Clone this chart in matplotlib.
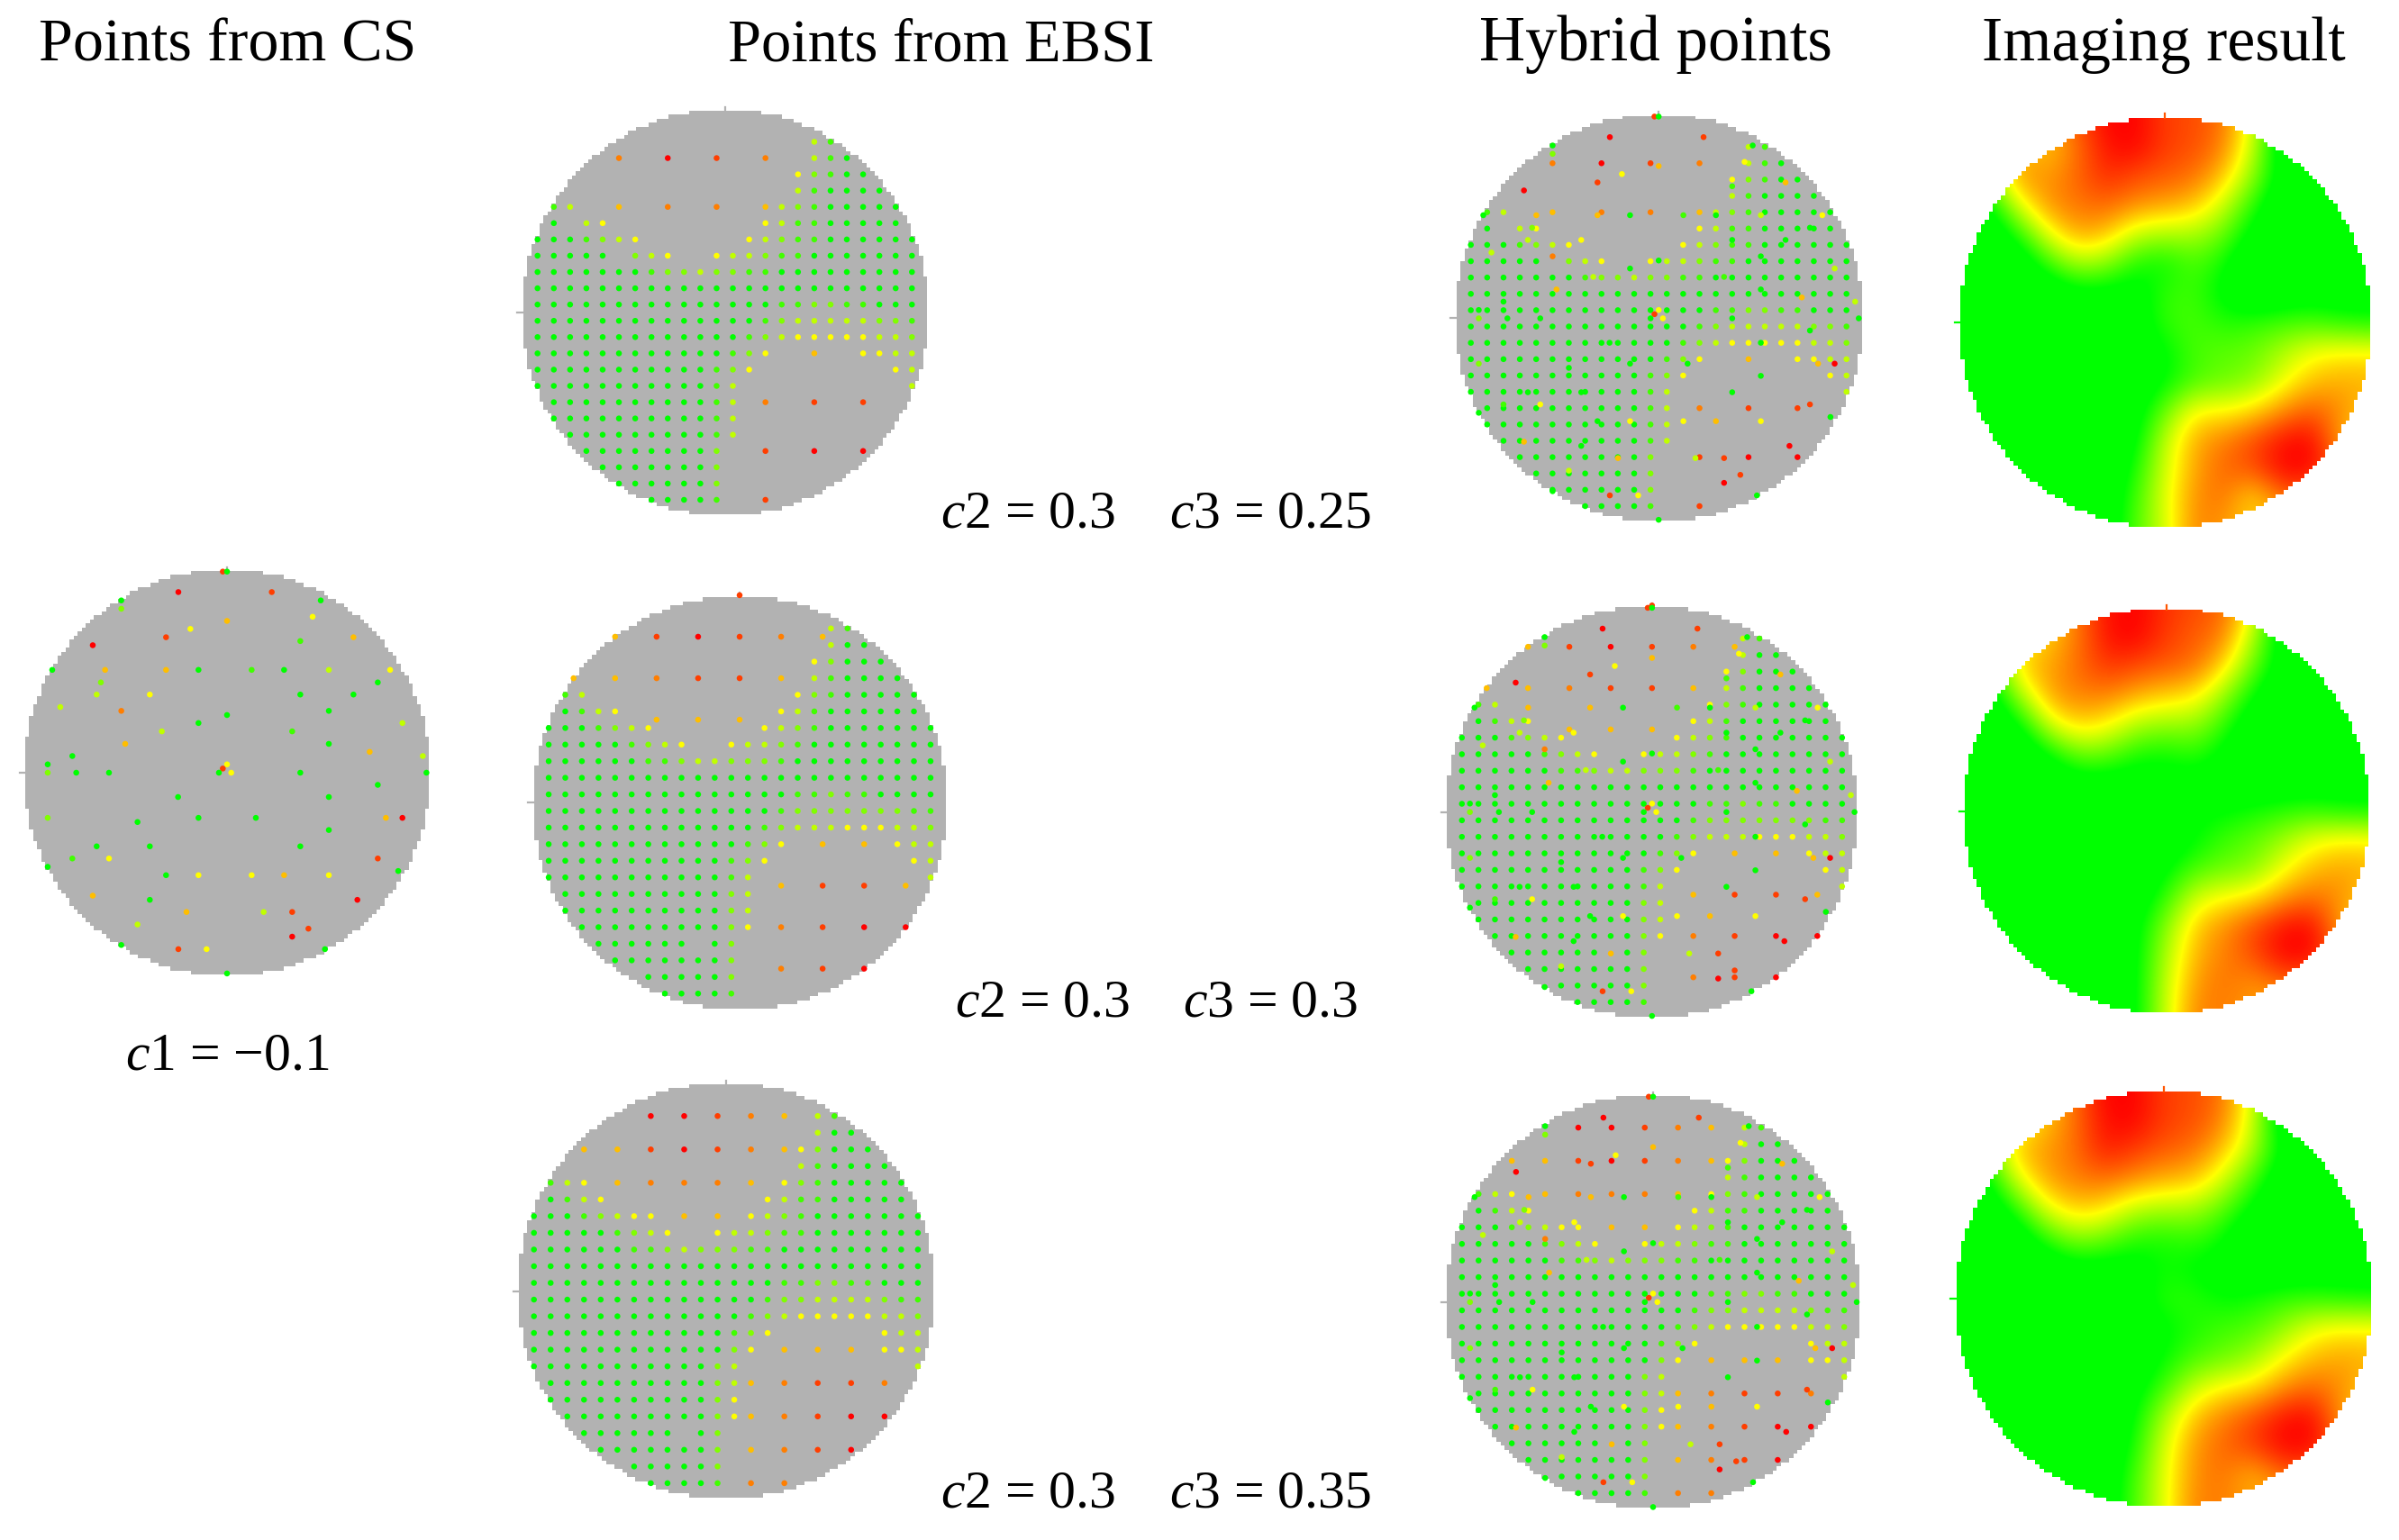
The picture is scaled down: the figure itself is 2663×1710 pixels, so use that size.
import matplotlib
matplotlib.use("Agg")
import matplotlib.pyplot as plt
from matplotlib.colors import LinearSegmentedColormap
import numpy as np

W, H = 2663, 1710

# sampling levels per grid row, 0 = green ... 4 = yellow ... 8 = red, "." = not sampled
EBSI_A = [
    ".................31.....",
    ".....6..8..7..6..310....",
    "................42100...",
    "................310000..",
    ".13..5..6..6..532100000.",
    ".0.34.........431100000.",
    "0001234......43211000000",
    "00000.234..4332110000000",
    "000000012232211000000000",
    "000000000000000000000000",
    "000000000000000112211000",
    "000000000000001233333221",
    "000000000000012344444332",
    "000000000000124..5..4433",
    "00000000000124........43",
    "0000000000013..........3",
    ".000000000013.6..7..7...",
    ".000000000013...........",
    "..00000000013...........",
    "...000000002..7..8..8...",
    "....00000002............",
    ".....0000002............",
    ".......00001..7.........",
]
EBSI_B = [
    ".................31.....",
    ".................300....",
    "................42000...",
    "....5....7....5.310000..",
    ".13............42100000.",
    ".0134.........431000000.",
    "0001234......43210000000",
    "000001234..4332100000000",
    "000000112332221000000000",
    "000000000000000000000000",
    "000000000000000112110000",
    "000000000000001222222211",
    "000000000000012333444332",
    "000000000000124....5.433",
    "00000000000124........43",
    "0000000000013..........3",
    ".000000000023...........",
    ".000000000023...........",
    "..00000000024.6....8....",
    "...000000.02............",
    "....00000002............",
    "......000002............",
    ".......00001............",
]
# EBSI_B also has points between the grid lines
B_EXTRA_COL = [4, 6.5, 9, 11.5, 14, 16.5, 1.5, 6.5, 11.5, 6.5, 9, 11.5, 16.5,
               14, 16.5, 19, 21.5, 16.5, 21.5, 14, 16.5, 19, 11.5]
B_EXTRA_ROW = [0.5, 0.5, 0.5, 0.5, 0.5, 0.5, 3, 3, 3, 5.5, 5.5, 5.5, 13,
               15.5, 15.5, 15.5, 15.5, 18, 18, 20.5, 20.5, 20.5, -2]
B_EXTRA_LEVEL = [5, 7, 8, 7, 6, 5, 5, 6, 7, 5, 5, 5, 5,
                 5, 7, 7, 5, 7, 8, 6, 7, 8, 7]
EBSI_C = [
    ".......8.8.7.6.5.31.....",
    ".................300....",
    "...5.5.7.8.7.6.542000...",
    "................310000..",
    ".134.5.6.6.6.5.42100000.",
    ".0134.........431100000.",
    "00012344.5.5.43210000000",
    "000001234..4332110000000",
    "000000112322211000000000",
    "000000000000000000000000",
    "000000000000000112211000",
    "000000000000001223333211",
    "000000000000012344444332",
    "000000000000124......433",
    "00000000000024.5.5.5.443",
    "0000000000023..........3",
    ".0000000000235.6.7.7.6..",
    ".000000000024...........",
    "..000000000245.6.7.8.8..",
    "...000000.02............",
    "....00000002.5.6.7.8....",
    "......000002............",
    ".......00001.6.6........",
]

# compressed sensing points
CS_READ_X = [741, 755, 593, 904, 403, 403, 1067, 1040, 755, 633, 552, 308, 999, 1176,
             173, 349, 552, 660, 837, 945, 1094, 1298, 335, 1257, 321, 498, 999, 1176,
             200, 403, 755, 1094, 660, 1339, 538, 972, 416, 1094, 1230, 1407,
             240, 158, 158, 253, 362, 755, 741, 728, 769, 999, 1419, 1257, 592, 1094,
             158, 660, 851, 1284, 1339, 457, 1094, 321, 498, 999,
             240, 362, 1257, 158, 1325, 552, 660, 837, 945, 1094,
             308, 498, 1189, 620, 877, 972, 457, 1026, 972,
             403, 593, 687, 1081, 755]
CS_READ_Y = [65, 65, 124, 124, 148, 172, 148, 195, 207, 230, 254, 277, 265, 254,
             348, 348, 348, 348, 348, 348, 348, 348, 384, 384, 419, 419, 419, 419,
             455, 466, 478, 466, 501, 501, 525, 525, 561, 561, 584, 596,
             596, 620, 644, 644, 644, 620, 632, 644, 644, 644, 644, 679, 714, 714,
             774, 774, 774, 774, 774, 786, 809, 856, 856, 856,
             891, 891, 891, 915, 927, 939, 939, 939, 939, 939,
             998, 1010, 1010, 1045, 1045, 1045, 1081, 1093, 1116,
             1140, 1152, 1152, 1152, 1222]
CS_LEVEL = [7, 0, 8, 7, 0, 2, 0, 4, 5, 4, 7, 8, 1, 5,
            0, 5, 5, 0, 1, 0, 3, 4, 2, 0, 3, 4, 0, 0,
            3, 6, 0, 0, 0, 3, 3, 1, 5, 0, 5, 3,
            0, 0, 2, 0, 0, 4, 7, 0, 4, 0, 0, 0, 0, 0,
            2, 0, 0, 5, 8, 0, 0, 0, 0, 0,
            1, 4, 7, 0, 0, 0, 4, 4, 5, 4,
            5, 0, 8, 5, 3, 7, 3, 7, 8,
            0, 7, 4, 0, 0]

# imaging result, 0 = green, 0.5 = yellow, 1 = red, on a coarse 15 x 15 mesh over the disk
# N marks mesh cells well inside the flat green part
N = -0.2
IMAGE_A = [
    [N, .1, .6, .65, .85, 1, 1, .88, .85, .78, .45, -.15, N, N, N],
    [N, .1, .65, .6, .78, .97, 1, .88, .85, .75, .4, -.17, N, N, N],
    [N, .3, .72, .7, .8, .92, .85, .82, .78, .62, .28, -.1, N, N, N],
    [N, -.05, .45, .72, .77, .8, .72, .68, .62, .4, .08, -.2, N, N, N],
    [N, -.2, .06, .46, .68, .62, .38, .33, .33, .2, -.08, N, N, N, N],
    [N, N, -.2, .1, .33, .27, .05, 0, .15, .02, N, N, N, N, N],
    [N, N, N, N, -.08, -.08, -.1, .1, .12, -.05, -.2, -.15, -.1, -.12, -.12],
    [N, N, N, N, N, N, -.1, .1, .14, .06, .09, .13, .14, .08, .05],
    [N, N, N, N, N, N, -.15, -.02, .14, .18, .2, .34, .48, .52, .52],
    [N, N, N, N, N, N, -.15, -.02, .14, .2, .26, .46, .62, .66, .65],
    [N, N, N, N, N, N, -.1, .2, .52, .5, .57, .72, .82, .72, .6],
    [N, N, N, N, N, -.2, -.05, .38, .66, .75, .85, .97, 1, .68, .5],
    [N, N, N, N, N, -.2, .05, .42, .68, .8, .85, 1, 1, .8, .5],
    [N, N, N, N, N, -.15, .12, .45, .72, .78, .55, .8, .8, .6, .4],
    [N, N, N, N, N, -.15, .16, .42, .75, .7, .6, .6, .6, .5, .4],
]
IMAGE_B = [
    [N, .05, .3, .55, .8, .98, 1, .9, .85, .8, .5, -.15, N, N, N],
    [N, .05, .5, .62, .78, .98, 1, .88, .82, .75, .35, -.12, N, N, N],
    [N, .15, .62, .68, .8, .9, .85, .82, .78, .57, .2, -.1, N, N, N],
    [N, -.1, .38, .7, .75, .75, .66, .6, .55, .3, 0, N, N, N, N],
    [N, N, 0, .46, .6, .52, .34, .3, .3, .1, -.15, N, N, N, N],
    [N, N, N, .02, .24, .2, .06, .03, .1, -.05, N, N, N, N, N],
    [N, N, N, N, -.1, -.1, -.12, -.08, -.08, -.12, -.15, -.15, -.12, -.12, -.12],
    [N, N, N, N, N, N, -.05, .03, -.03, -.02, .03, .08, .1, .05, .03],
    [N, N, N, N, N, N, N, -.12, -.02, .12, .18, .3, .46, .52, .52],
    [N, N, N, N, N, N, N, -.03, .14, .2, .25, .47, .62, .68, .65],
    [N, N, N, N, N, N, -.12, .1, .42, .5, .55, .7, .78, .72, .6],
    [N, N, N, N, N, N, -.05, .27, .6, .72, .85, .97, 1, .7, .5],
    [N, N, N, N, N, N, -.03, .35, .65, .75, .85, 1, 1, .8, .5],
    [N, N, N, N, N, N, -.02, .4, .7, .78, .7, .8, .8, .6, .4],
    [N, N, N, N, N, N, -.02, .42, .75, .75, .7, .6, .6, .5, .4],
]
IMAGE_C = [
    [N, .05, .3, .55, .8, 1, 1, .88, .85, .78, .45, -.15, N, N, N],
    [N, .1, .45, .62, .78, .98, 1, .88, .85, .75, .42, -.15, N, N, N],
    [N, .15, .62, .7, .78, .95, .88, .82, .78, .62, .35, -.05, N, N, N],
    [N, -.08, .42, .68, .75, .78, .72, .65, .62, .42, .12, -.15, N, N, N],
    [N, N, .05, .44, .6, .55, .36, .32, .32, .17, -.05, N, N, N, N],
    [N, N, N, .07, .26, .2, .07, .04, .1, 0, N, N, N, N, N],
    [N, N, N, N, -.1, -.1, -.1, .03, -.03, -.08, -.15, -.15, -.12, -.12, -.12],
    [N, N, N, N, N, N, -.08, .08, .08, -.01, .03, .1, .1, .07, .05],
    [N, N, N, N, N, N, -.15, -.03, .05, .13, .15, .28, .47, .52, .52],
    [N, N, N, N, N, N, -.15, 0, .14, .2, .3, .5, .63, .68, .65],
    [N, N, N, N, N, N, -.08, .12, .4, .52, .56, .72, .8, .72, .6],
    [N, N, N, N, N, -.2, -.02, .33, .62, .75, .85, .97, 1, .7, .5],
    [N, N, N, N, N, -.2, .04, .42, .7, .8, .88, 1, 1, .8, .5],
    [N, N, N, N, N, -.15, .12, .45, .72, .78, .62, .8, .8, .6, .4],
    [N, N, N, N, N, -.15, .14, .45, .75, .75, .7, .6, .6, .5, .4],
]

TITLES = ["Points from CS", "Points from EBSI", "Hybrid points", "Imaging result"]
TITLE_SIZES = [49, 48, 51, 50]

DISK_R = 12.39  # disk radius in grid steps
GRAY = "#b2b2b2"
cmap = LinearSegmentedColormap.from_list("gyr", ["#00ff00", "#ffff00", "#ff0000"])


def grid_points(rows):
    cols, row_ids, levels = [], [], []
    for j, row in enumerate(rows):
        for i, ch in enumerate(row):
            if ch != ".":
                cols.append(i)
                row_ids.append(j)
                levels.append(int(ch))
    return np.array(cols, float), np.array(row_ids, float), np.array(levels, float)


def disk_mask(pad=0):
    # the source images are 100 x 100 pixels, so the rim stays stepped
    c = np.arange(-pad, 100 + pad) + 0.5 - 50
    xx, yy = np.meshgrid(c, c)
    return xx**2 + yy**2 <= 50.4**2


def add_panel(fig, cx, cy, step):
    r = DISK_R * step
    ax = fig.add_axes([(cx - r) / W, 1 - (cy + r) / H, 2 * r / W, 2 * r / H])
    ax.set_axis_off()
    return ax


def finish_panel(ax, top_color=GRAY, left_color=GRAY):
    ax.plot([0, 0], [DISK_R, DISK_R + 0.25], color=top_color, lw=1.6, clip_on=False)
    ax.plot([-DISK_R - 0.35, -DISK_R], [0, 0], color=left_color, lw=1.6, clip_on=False)
    ax.set_xlim(-DISK_R, DISK_R)
    ax.set_ylim(-DISK_R, DISK_R)


def draw_gray(ax):
    rgba = np.zeros((100, 100, 4))
    rgba[disk_mask()] = matplotlib.colors.to_rgba(GRAY)
    ax.imshow(rgba, extent=(-DISK_R, DISK_R, -DISK_R, DISK_R), aspect="auto",
              interpolation="nearest", zorder=1)


def draw_points(ax, x, y, levels, size=22):
    ax.scatter(x, y, c=levels / 8.0, cmap=cmap, vmin=0, vmax=1, s=size,
               linewidths=0, clip_on=False, zorder=3)


def draw_image(ax, values):
    values = np.array(values, float)
    half = DISK_R / (values.shape[0] - 1)
    ax.imshow(values, cmap=cmap, vmin=0, vmax=1, interpolation="bicubic", aspect="auto",
              extent=(-DISK_R - half, DISK_R + half, -DISK_R - half, DISK_R + half), zorder=1)
    # white surround with a few spare pixels so no colour shows at the axes edge
    pad = 3
    mask = disk_mask(pad)
    white = np.zeros(mask.shape + (4,))
    white[~mask] = (1, 1, 1, 1)
    e = DISK_R * (100 + 2 * pad) / 100
    ax.imshow(white, extent=(-e, e, -e, e), aspect="auto", interpolation="nearest", zorder=2)


def main():
    plt.rcParams["font.family"] = ["Liberation Serif", "DejaVu Serif"]
    plt.rcParams["mathtext.fontset"] = "custom"
    plt.rcParams["mathtext.rm"] = "Liberation Serif"
    plt.rcParams["mathtext.it"] = "Liberation Serif:italic"

    fig = plt.figure(figsize=(W / 100, H / 100), dpi=100, facecolor="white")

    cs_x = (np.array(CS_READ_X, float) - 755) / 54.2
    cs_y = (644 - np.array(CS_READ_Y, float)) / 46.85
    cs_level = np.array(CS_LEVEL, float)

    # CS panel
    ax = add_panel(fig, 252, 858, 18.07)
    draw_gray(ax)
    draw_points(ax, cs_x, cs_y, cs_level)
    finish_panel(ax)

    ebsi_sets = []
    for rows in (EBSI_A, EBSI_B, EBSI_C):
        ebsi_sets.append(grid_points(rows))
    c, r, l = ebsi_sets[1]
    ebsi_sets[1] = (np.r_[c, B_EXTRA_COL], np.r_[r, B_EXTRA_ROW], np.r_[l, B_EXTRA_LEVEL])

    # EBSI column, then hybrid column which is the same grid plus the CS points
    ebsi_pos = [(804.5, 347.2, 18.07), (821, 891.3, 18.43), (805.8, 1433.8, 18.53)]
    hybrid_pos = [(1841.2, 353.5, 18.13), (1833.8, 901.7, 18.35), (1835, 1445.8, 18.45)]
    for (c, r, l), ep, hp in zip(ebsi_sets, ebsi_pos, hybrid_pos):
        x = c - 11.5
        y = 10.5 - r
        ax = add_panel(fig, *ep)
        draw_gray(ax)
        draw_points(ax, x, y, l)
        finish_panel(ax)

        ax = add_panel(fig, *hp)
        draw_gray(ax)
        draw_points(ax, x, y, l)
        draw_points(ax, cs_x, cs_y, cs_level)
        finish_panel(ax)

    # imaging results, radius given directly as a step of the same disk
    image_pos = [(2403.3, 357.8, 227 / DISK_R), (2404.7, 900.7, 223.7 / DISK_R),
                 (2401.8, 1441.7, 230 / DISK_R)]
    for values, ip in zip((IMAGE_A, IMAGE_B, IMAGE_C), image_pos):
        ax = add_panel(fig, *ip)
        draw_image(ax, values)
        finish_panel(ax, top_color="#ff5500", left_color="#00ff00")

    for title, size, x in zip(TITLES, TITLE_SIZES, [253, 1045, 1838, 2402]):
        fig.text(x / W, 1 - 67 / H, title, fontsize=size, ha="center", va="baseline")

    labels = [
        ("$c$1 = \u22120.1", 252, 1187),
        ("$c$2 = 0.3", 1141, 586), ("$c$3 = 0.25", 1410, 586),
        ("$c$2 = 0.3", 1157, 1128), ("$c$3 = 0.3", 1410, 1128),
        ("$c$2 = 0.3", 1141, 1673), ("$c$3 = 0.35", 1410, 1673),
    ]
    for text, x, y in labels:
        fig.text(x / W, 1 - y / H, text, fontsize=43, ha="center", va="baseline")

    fig.savefig("out.png", dpi=100, facecolor="white")


if __name__ == "__main__":
    main()
